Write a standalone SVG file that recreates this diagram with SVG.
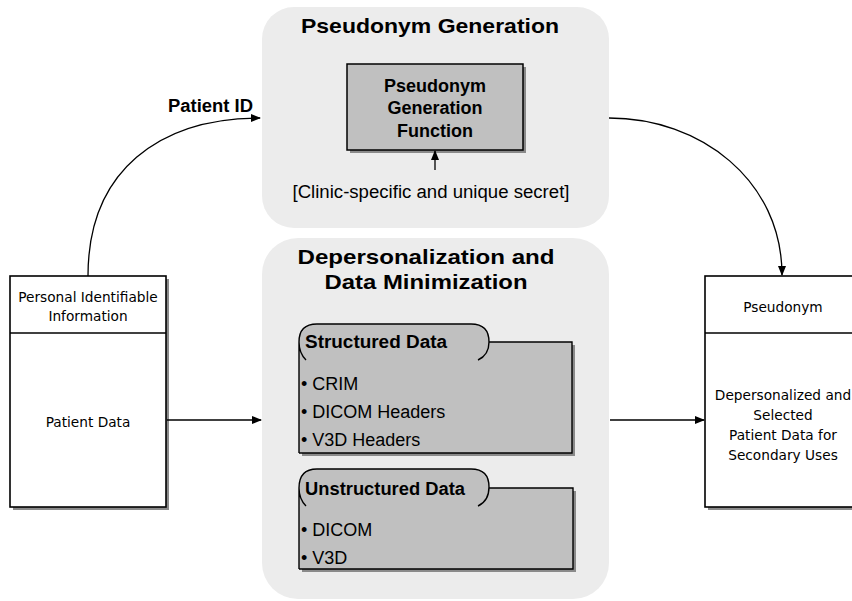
<svg xmlns="http://www.w3.org/2000/svg" width="852" height="601" viewBox="0 0 852 601">
<defs>
<marker id="arr" markerWidth="10" markerHeight="8" refX="9" refY="4" orient="auto" markerUnits="userSpaceOnUse">
<path d="M0,0 L10,4 L0,8 Z" fill="#000"/>
</marker>
<style>
.panel{fill:#ececec;stroke:none}
.gbox{fill:#c0c0c0;stroke:#000;stroke-width:1.5}
.gfill{fill:#c0c0c0;stroke:none}
.ln{fill:none;stroke:#000;stroke-width:1.4}
.wbox{fill:#fff;stroke:#000;stroke-width:1.6}
.shadow{fill:#8a8a8a}
.title{font-family:"Liberation Sans",Arial,sans-serif;font-weight:bold;font-size:21px;fill:#000;text-anchor:middle}
.bt{font-family:"Liberation Sans",Arial,sans-serif;font-weight:bold;font-size:18px;fill:#000}
.rt{font-family:"Liberation Sans",Arial,sans-serif;font-size:18px;fill:#000}
.st{font-family:"DejaVu Sans",Verdana,sans-serif;font-size:13.7px;fill:#000;text-anchor:middle}
.conn{fill:none;stroke:#000;stroke-width:1.3}
</style>
</defs>
<rect width="852" height="601" fill="#fff"/>

<g id="pseudonym-generation">
<rect class="panel" x="262" y="7" width="347" height="221" rx="32" ry="32"/>
<text class="title" x="430" y="33" textLength="258" lengthAdjust="spacingAndGlyphs">Pseudonym Generation</text>
<g id="pgf">
<rect class="shadow" x="350" y="67" width="176" height="86"/>
<rect class="gbox" x="347" y="64" width="176" height="86"/>
<text class="bt" x="435" y="92" text-anchor="middle">Pseudonym</text>
<text class="bt" x="435" y="114" text-anchor="middle">Generation</text>
<text class="bt" x="435" y="137" text-anchor="middle">Function</text>
</g>
<text class="rt" x="431" y="198" text-anchor="middle" textLength="277" lengthAdjust="spacingAndGlyphs">[Clinic-specific and unique secret]</text>
</g>

<g id="depersonalization">
<rect class="panel" x="262" y="238" width="347" height="361" rx="36" ry="36"/>
<text class="title" x="426" y="264" textLength="257" lengthAdjust="spacingAndGlyphs">Depersonalization and</text>
<text class="title" x="426" y="289" textLength="203" lengthAdjust="spacingAndGlyphs">Data Minimization</text>

<g id="structured">
<rect class="shadow" x="302" y="345" width="273" height="111"/>
<rect class="gfill" x="299" y="342" width="273" height="111"/>
<rect class="gfill" x="299" y="324" width="190" height="36" rx="18" ry="18"/>
<path class="ln" d="M299,453 L299,342 M306,360 Q299,353 299,342 Q299,324 317,324 L471,324 Q489,324 489,342 Q489,355 478,360 M489,342 L572,342 L572,453 L299,453"/>
<text class="bt" x="305" y="348" textLength="142" lengthAdjust="spacingAndGlyphs">Structured Data</text>
<text class="rt" x="301" y="390">• CRIM</text>
<text class="rt" x="301" y="418">• DICOM Headers</text>
<text class="rt" x="301" y="446">• V3D Headers</text>
</g>

<g id="unstructured">
<rect class="shadow" x="302" y="491" width="274" height="81"/>
<rect class="gfill" x="299" y="488" width="274" height="81"/>
<rect class="gfill" x="299" y="469" width="190" height="37" rx="18" ry="18"/>
<path class="ln" d="M299,569 L299,488 M306,506 Q299,499 299,488 Q299,469 317,469 L471,469 Q489,469 489,487 Q489,501 478,506 M489,488 L573,488 L573,569 L299,569"/>
<text class="bt" x="305" y="495" textLength="160" lengthAdjust="spacingAndGlyphs">Unstructured Data</text>
<text class="rt" x="301" y="536">• DICOM</text>
<text class="rt" x="301" y="564">• V3D</text>
</g>
</g>

<g id="pii">
<rect class="shadow" x="13" y="279" width="156" height="231"/>
<rect class="wbox" x="10" y="276" width="156" height="231"/>
<line class="ln" x1="10" y1="333" x2="166" y2="333"/>
<text class="st" x="88" y="302">Personal Identifiable</text>
<text class="st" x="88" y="321">Information</text>
<text class="st" x="88" y="427">Patient Data</text>
</g>

<g id="pseudonym-output">
<rect class="shadow" x="708" y="279" width="156" height="231"/>
<rect class="wbox" x="705" y="276" width="156" height="231"/>
<line class="ln" x1="705" y1="333" x2="861" y2="333"/>
<text class="st" x="783" y="312">Pseudonym</text>
<text class="st" x="783" y="400">Depersonalized and</text>
<text class="st" x="783" y="420">Selected</text>
<text class="st" x="783" y="440">Patient Data for</text>
<text class="st" x="783" y="460">Secondary Uses</text>
</g>

<g id="connectors">
<path class="conn" d="M88,276 C88,170 160,118 260,118" marker-end="url(#arr)"/>
<text class="bt" x="168" y="112" font-size="17" textLength="85" lengthAdjust="spacingAndGlyphs">Patient ID</text>
<path class="conn" d="M609,118 C700,118 782,180 782,275" marker-end="url(#arr)"/>
<path class="conn" d="M435,170 L435,151" marker-end="url(#arr)"/>
<path class="conn" d="M167,420 L261,420" marker-end="url(#arr)"/>
<path class="conn" d="M610,420 L704,420" marker-end="url(#arr)"/>
</g>
</svg>
